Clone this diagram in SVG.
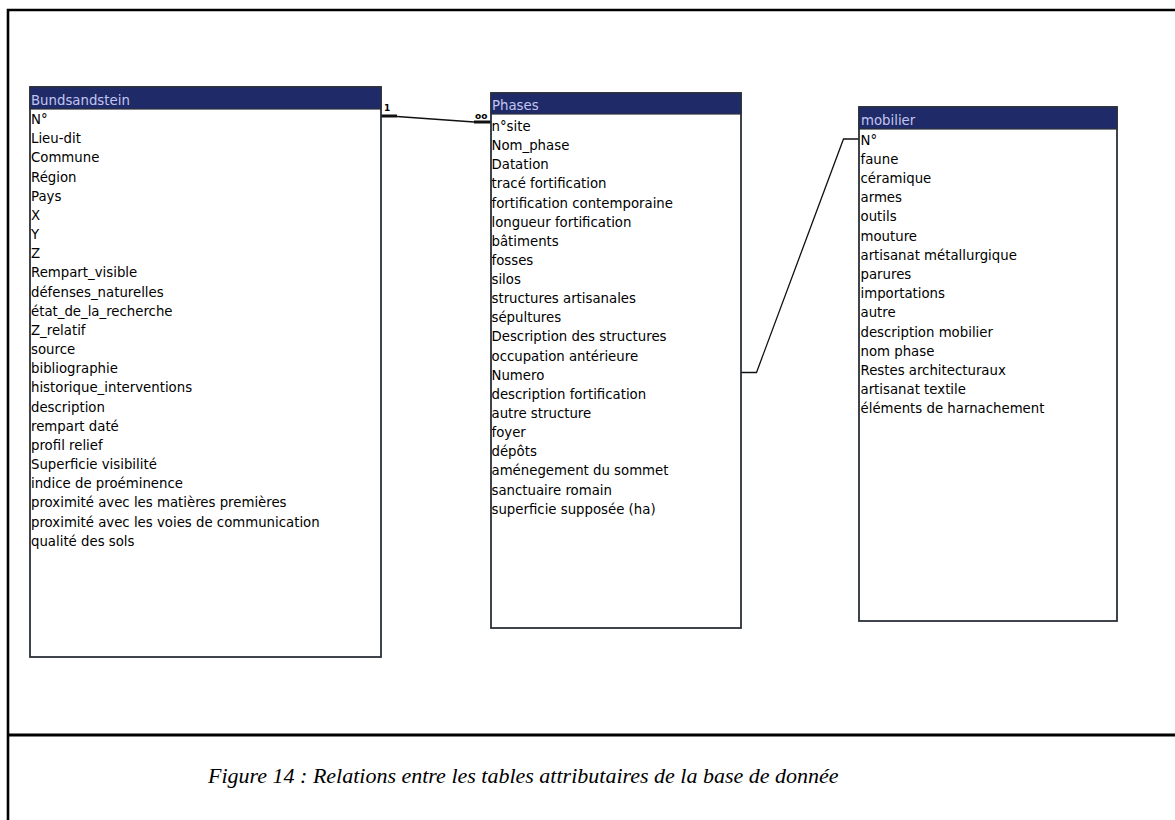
<svg xmlns="http://www.w3.org/2000/svg" width="1175" height="820" viewBox="0 0 1175 820">
<style>
.frame{fill:none;stroke:#000;stroke-width:2.6}
.tbl{fill:#fff;stroke:#2b2f38;stroke-width:1.8}
.hdr{fill:#1f2b68;stroke:#2b2f38;stroke-width:1.2}
.ht{font-family:"DejaVu Sans",Verdana,sans-serif;font-size:13.3px;fill:#c4c4f0}
.ft{font-family:"DejaVu Sans",Verdana,sans-serif;font-size:13.3px;fill:#000}
.conn{fill:none;stroke:#111;stroke-width:1.3}
.bar{stroke:#111;stroke-width:3}
.card{font-family:"DejaVu Sans",Verdana,sans-serif;font-size:9px;font-weight:bold;fill:#000}
.cap{font-family:"Liberation Serif","Times New Roman",serif;font-size:22px;font-style:italic;fill:#000}
</style>
<rect width="1175" height="820" fill="#fff"/>
<g id="frame">
<path class="frame" d="M8,830 V10 H1185"/>
<line x1="8" y1="735" x2="1185" y2="735" stroke="#000" stroke-width="3.2"/>
</g>
<g id="connectors">
<line class="bar" x1="381" y1="116" x2="397" y2="116"/>
<polyline class="conn" points="397,116.5 474,122"/>
<line class="bar" x1="474" y1="122" x2="491" y2="122"/>
<text class="card" x="384" y="111">1</text>
<text class="card" x="475" y="119">oo</text>
<polyline class="conn" points="741,372.5 756.5,372.5 843.5,139 859,139"/>
</g>
<g id="Bundsandstein">
<rect class="tbl" x="30" y="87" width="351" height="570"/>
<rect class="hdr" x="30" y="87" width="351" height="22"/>
<text class="ht" x="31" y="104.5">Bundsandstein</text>
<text class="ft" x="31" y="124">N°</text>
<text class="ft" x="31" y="143.2">Lieu-dit</text>
<text class="ft" x="31" y="162.3">Commune</text>
<text class="ft" x="31" y="181.5">Région</text>
<text class="ft" x="31" y="200.7">Pays</text>
<text class="ft" x="31" y="219.9">X</text>
<text class="ft" x="31" y="239">Y</text>
<text class="ft" x="31" y="258.2">Z</text>
<text class="ft" x="31" y="277.4">Rempart_visible</text>
<text class="ft" x="31" y="296.5">défenses_naturelles</text>
<text class="ft" x="31" y="315.7">état_de_la_recherche</text>
<text class="ft" x="31" y="334.9">Z_relatif</text>
<text class="ft" x="31" y="354">source</text>
<text class="ft" x="31" y="373.2">bibliographie</text>
<text class="ft" x="31" y="392.4">historique_interventions</text>
<text class="ft" x="31" y="411.6">description</text>
<text class="ft" x="31" y="430.7">rempart daté</text>
<text class="ft" x="31" y="449.9">profil relief</text>
<text class="ft" x="31" y="469.1">Superficie visibilité</text>
<text class="ft" x="31" y="488.2">indice de proéminence</text>
<text class="ft" x="31" y="507.4">proximité avec les matières premières</text>
<text class="ft" x="31" y="526.6">proximité avec les voies de communication</text>
<text class="ft" x="31" y="545.7">qualité des sols</text>
</g>
<g id="Phases">
<rect class="tbl" x="491" y="93" width="250" height="535"/>
<rect class="hdr" x="491" y="93" width="250" height="21"/>
<text class="ht" x="492" y="109.5">Phases</text>
<text class="ft" x="491.5" y="131">n°site</text>
<text class="ft" x="491.5" y="150.1">Nom_phase</text>
<text class="ft" x="491.5" y="169.3">Datation</text>
<text class="ft" x="491.5" y="188.4">tracé fortification</text>
<text class="ft" x="491.5" y="207.5">fortification contemporaine</text>
<text class="ft" x="491.5" y="226.7">longueur fortification</text>
<text class="ft" x="491.5" y="245.8">bâtiments</text>
<text class="ft" x="491.5" y="264.9">fosses</text>
<text class="ft" x="491.5" y="284">silos</text>
<text class="ft" x="491.5" y="303.2">structures artisanales</text>
<text class="ft" x="491.5" y="322.3">sépultures</text>
<text class="ft" x="491.5" y="341.4">Description des structures</text>
<text class="ft" x="491.5" y="360.6">occupation antérieure</text>
<text class="ft" x="491.5" y="379.7">Numero</text>
<text class="ft" x="491.5" y="398.8">description fortification</text>
<text class="ft" x="491.5" y="418">autre structure</text>
<text class="ft" x="491.5" y="437.1">foyer</text>
<text class="ft" x="491.5" y="456.2">dépôts</text>
<text class="ft" x="491.5" y="475.3">aménegement du sommet</text>
<text class="ft" x="491.5" y="494.5">sanctuaire romain</text>
<text class="ft" x="491.5" y="513.6">superficie supposée (ha)</text>
</g>
<g id="mobilier">
<rect class="tbl" x="859" y="107" width="258" height="514"/>
<rect class="hdr" x="859" y="107" width="258" height="22"/>
<text class="ht" x="861" y="124.5">mobilier</text>
<text class="ft" x="860.5" y="144.5">N°</text>
<text class="ft" x="860.5" y="163.7">faune</text>
<text class="ft" x="860.5" y="182.9">céramique</text>
<text class="ft" x="860.5" y="202.1">armes</text>
<text class="ft" x="860.5" y="221.3">outils</text>
<text class="ft" x="860.5" y="240.5">mouture</text>
<text class="ft" x="860.5" y="259.7">artisanat métallurgique</text>
<text class="ft" x="860.5" y="278.9">parures</text>
<text class="ft" x="860.5" y="298.1">importations</text>
<text class="ft" x="860.5" y="317.3">autre</text>
<text class="ft" x="860.5" y="336.5">description mobilier</text>
<text class="ft" x="860.5" y="355.7">nom phase</text>
<text class="ft" x="860.5" y="374.9">Restes architecturaux</text>
<text class="ft" x="860.5" y="394.1">artisanat textile</text>
<text class="ft" x="860.5" y="413.3">éléments de harnachement</text>
</g>
<g id="caption">
<text class="cap" x="208" y="783">Figure 14 : Relations entre les tables attributaires de la base de donnée</text>
</g>
</svg>
